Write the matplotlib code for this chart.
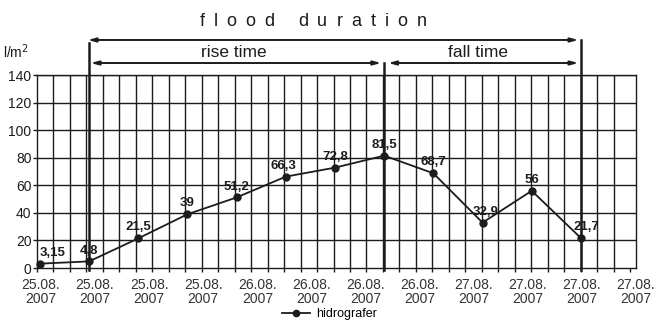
import matplotlib
matplotlib.use("Agg")
import matplotlib.pyplot as plt
import numpy as np

plt.rcParams['font.family'] = ['Liberation Sans', 'DejaVu Sans']

# ---- data ----
values = [3.15, 4.8, 21.5, 39, 51.2, 66.3, 72.8, 81.5, 68.7, 32.9, 56, 21.7]
value_labels = ["3,15", "4,8", "21,5", "39", "51,2", "66,3", "72,8", "81,5", "68,7", "32,9", "56", "21,7"]
date_labels = ["25.08.\n2007"] * 4 + ["26.08.\n2007"] * 4 + ["27.08.\n2007"] * 4
y_ticks = [0, 20, 40, 60, 80, 100, 120, 140]
series_name = "hidrografer"
rise_start, peak, fall_end = 1, 7, 11   # indices of the marked points

# ---- layout ----
W, H = 659, 322
fig = plt.figure(figsize=(W / 100, H / 100), dpi=100)
ax = fig.add_axes([37 / W, 54 / H, 599 / W, 193 / H])
ink = '#1c1c1c'

x = np.arange(len(values))
x_left, x_right = -0.06, 12.0
ax.set_xlim(x_left, x_right)
ax.set_ylim(0, 140)

# grid
for k in range(1, 36):
    gx = x_left + k * (x_right - x_left) / 36
    ax.axvline(gx, color=ink, lw=1.0, zorder=1)
for yv in y_ticks[1:]:
    ax.axhline(yv, color=ink, lw=1.0, zorder=1)

for s in ax.spines.values():
    s.set_color(ink)
    s.set_linewidth(1.0)

# ticks
ax.set_yticks(y_ticks)
ax.tick_params(axis='y', direction='out', length=3, width=1, colors=ink, labelsize=10, pad=1)
minor = [x_left + k * (x_right - x_left) / 36 for k in range(37)]
ax.set_xticks(minor, minor=True)
ax.tick_params(axis='x', which='minor', direction='out', length=3, width=1, colors=ink)
label_pos = [0.02 + i * 1.1 for i in range(len(date_labels))]
ax.set_xticks(label_pos)
ax.set_xticklabels(date_labels, fontsize=10, color='#333333', linespacing=1.0)
ax.tick_params(axis='x', which='major', length=0, pad=7)

# series
line, = ax.plot(x, values, color=ink, lw=1.3, marker='o', markersize=5,
                markerfacecolor=ink, markeredgecolor=ink, zorder=4, clip_on=False,
                label=series_name)

dx_px = [13, 0, 0, 0, 0, -2, 0, 0, 0, 3, 0, 6]
for xi, v, lab, dx in zip(x, values, value_labels, dx_px):
    ax.annotate(lab, (xi, v), xytext=(dx * 0.72, 3.5), textcoords='offset points',
                ha='center', va='bottom', fontsize=9.5, fontweight='bold', color=ink,
                annotation_clip=False, zorder=5)

# duration markers
top_y, sub_y = 165.4, 148.7
for xv, y0 in [(rise_start, 163.2), (peak, sub_y), (fall_end, top_y)]:
    ax.plot([xv, xv], [y0, -1.5], color=ink, lw=1.8, clip_on=False, zorder=3)

arr = dict(arrowstyle='<|-|>,head_length=0.45,head_width=0.12', lw=1.4, color=ink,
           shrinkA=0, shrinkB=0)
ax.annotate('', xy=(rise_start - 0.03, top_y), xytext=(fall_end - 0.05, top_y),
            arrowprops=arr, annotation_clip=False)
ax.annotate('', xy=(rise_start + 0.03, sub_y), xytext=(peak - 0.06, sub_y),
            arrowprops=arr, annotation_clip=False)
ax.annotate('', xy=(peak + 0.08, sub_y), xytext=(fall_end - 0.05, sub_y),
            arrowprops=arr, annotation_clip=False)

ax.text((rise_start + peak) / 2 - 0.05, 156, 'rise time', ha='center', va='center',
        fontsize=12.5, color=ink)
ax.text((peak + fall_end) / 2 - 0.1, 156, 'fall time', ha='center', va='center',
        fontsize=12.5, color=ink)

# letter-spaced title
title = "flood duration"
renderer = fig.canvas.get_renderer()
widths = []
for ch in title:
    t = fig.text(0, 0, ch if ch != ' ' else 'n', fontsize=13)
    bb = t.get_window_extent(renderer)
    widths.append(bb.width if ch != ' ' else bb.width * 0.55)
    t.remove()
track = 9.0
total = sum(widths) + track * (len(title) - 1)
cx = 313
xpos = cx - total / 2
for ch, w in zip(title, widths):
    if ch != ' ':
        fig.text((xpos + w / 2) / W, 1 - 21 / H, ch, fontsize=13, ha='center', va='center', color=ink)
    xpos += w + track

# unit label
fig.text(3 / W, 1 - 52 / H, 'l/m$^{2}$', fontsize=10, ha='left', va='center', color=ink)

fig.legend(handles=[line], loc='center', bbox_to_anchor=(0.5, 1 - 314 / H), frameon=False,
           fontsize=9, handlelength=2.2, handletextpad=0.5, borderpad=0, markerscale=0.9)

fig.savefig('out.png', dpi=100)
